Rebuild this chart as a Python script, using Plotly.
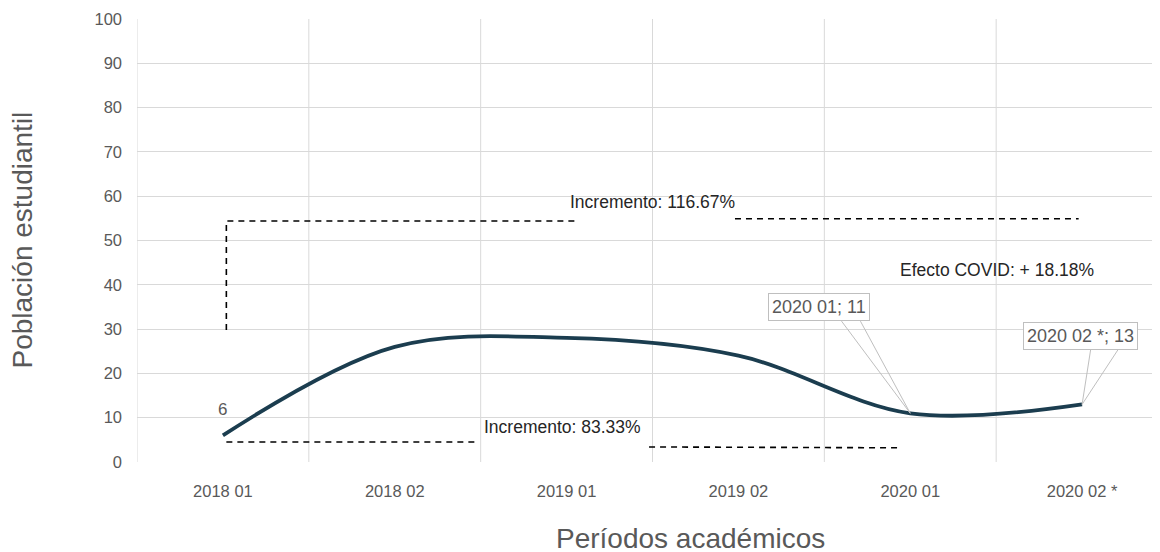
import plotly.graph_objects as go

periodos = ["2018 01", "2018 02", "2019 01", "2019 02", "2020 01", "2020 02 *"]
poblacion = [6, 26, 28, 24, 11, 13]
y_ticks = [0, 10, 20, 30, 40, 50, 60, 70, 80, 90, 100]

# dashed guide segments (x as category index, y as value)
guia_x = [[0.02, 0.02, 2.06], [2.98, 4.98], [0.02, 1.48], [2.48, 3.94]]
guia_y = [[29.8, 54.4, 54.4], [54.9, 54.9], [4.5, 4.5], [3.4, 3.2]]

textos = ["Incremento: 116.67%", "Efecto COVID: + 18.18%", "Incremento: 83.33%"]
textos_x = [2.01, 3.93, 1.51]
textos_y = [58.6, 43.3, 7.9]

FONT = "Liberation Sans, Arial, sans-serif"
GRAY = "#595959"

fig = go.Figure()

for gx, gy in zip(guia_x, guia_y):
    fig.add_trace(go.Scatter(x=gx, y=gy, mode="lines", hoverinfo="skip",
                             line=dict(color="#000000", width=1.6, dash="6px,5px"),
                             showlegend=False))

fig.add_trace(go.Scatter(
    x=list(range(len(periodos))), y=poblacion, mode="lines",
    line=dict(color="#1B3D4F", width=3.8, shape="spline", smoothing=1.0),
    showlegend=False))

# callout wedges
callouts = [
    dict(idx=4, box=(3.47, 34.9), base=((3.60, 31.8), (3.71, 31.8)), text="2020 01; 11"),
    dict(idx=5, box=(4.99, 28.5), base=((5.05, 25.4), (5.21, 25.4)), text="2020 02 *; 13"),
]
for c in callouts:
    px, py = c["idx"], poblacion[c["idx"]]
    (x1, y1), (x2, y2) = c["base"]
    fig.add_trace(go.Scatter(x=[x1, px, x2], y=[y1, py, y2], mode="lines",
                             line=dict(color="#BFBFBF", width=1), hoverinfo="skip",
                             showlegend=False))
    fig.add_annotation(x=c["box"][0], y=c["box"][1], text=c["text"], showarrow=False,
                       font=dict(family=FONT, size=18, color=GRAY),
                       bgcolor="white", bordercolor="#BFBFBF", borderwidth=1, borderpad=3)

for t, tx, ty in zip(textos, textos_x, textos_y):
    fig.add_annotation(x=tx, y=ty, text=t, showarrow=False, xanchor="left",
                       font=dict(family=FONT, size=17.5, color="#262626"))

fig.add_annotation(x=0, y=poblacion[0], text=str(poblacion[0]), showarrow=False,
                   yshift=26, font=dict(family=FONT, size=17, color=GRAY))

fig.add_annotation(x=0.537, y=0, xref="paper", yref="paper", yshift=-76, yanchor="middle",
                   text="Períodos académicos", showarrow=False,
                   font=dict(family=FONT, size=28, color=GRAY))
fig.add_annotation(x=0, y=0.5, xref="paper", yref="paper", xshift=-115, xanchor="center",
                   yanchor="middle", textangle=-90,
                   text="Población estudiantil", showarrow=False,
                   font=dict(family=FONT, size=28, color=GRAY))

fig.update_layout(
    width=1160, height=552,
    margin=dict(l=129, r=0, t=11, b=98),
    plot_bgcolor="white", paper_bgcolor="white",
    font=dict(family=FONT, color=GRAY),
    xaxis=dict(
        range=[-0.5, 5.5], tickmode="array",
        tickvals=list(range(len(periodos))), ticktext=periodos,
        showgrid=False, zeroline=False, showline=False,
        tickfont=dict(size=16.5, color=GRAY), ticks="", ticklabelstandoff=17,
    ),
    yaxis=dict(
        range=[0, 100], tickvals=y_ticks, showgrid=True, gridcolor="#D9D9D9",
        gridwidth=1, zeroline=False, showline=False,
        tickfont=dict(size=16.5, color=GRAY), ticklabelstandoff=14,
    ),
)

# vertical gridlines at category boundaries
for b in [-0.5, 0.5, 1.5, 2.5, 3.5, 4.5, 5.5]:
    fig.add_shape(type="line", x0=b, x1=b, y0=0, y1=100, xref="x", yref="y",
                  line=dict(color="#D9D9D9", width=1), layer="below")

fig.write_html("out.html")
